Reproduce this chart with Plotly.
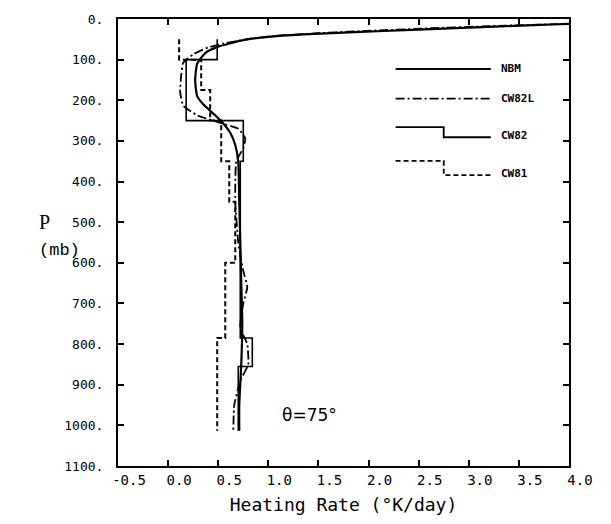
import plotly.graph_objects as go

# ---------------- data ----------------
nbm_p = [8, 12, 15, 21, 26, 33, 38, 44, 52, 68, 84, 110, 150, 190, 210, 237, 257, 280, 310, 351, 450, 550, 650, 750, 850, 950, 1013]
nbm_v = [4.4, 4.0, 3.65, 3.0, 2.5, 1.8, 1.35, 1.0, 0.75, 0.5, 0.37, 0.29, 0.27, 0.29, 0.35, 0.47, 0.55, 0.62, 0.67, 0.70, 0.71, 0.72, 0.73, 0.74, 0.73, 0.71, 0.71]

cw82l_p = [8, 12, 16, 22, 28, 35, 42, 50, 60, 70, 87, 108, 140, 180, 213, 237, 254, 270, 294, 318, 350, 450, 550, 620, 660, 700, 760, 800, 850, 890, 950, 1013]
cw82l_v = [4.4, 4.0, 3.4, 2.7, 2.1, 1.5, 1.05, 0.78, 0.56, 0.40, 0.25, 0.15, 0.13, 0.12, 0.15, 0.29, 0.50, 0.70, 0.77, 0.75, 0.68, 0.67, 0.70, 0.75, 0.79, 0.75, 0.72, 0.79, 0.80, 0.72, 0.66, 0.65]

cw82_edges = [50, 100, 250, 350, 785, 855, 1013]
cw82_vals = [0.49, 0.18, 0.75, 0.72, 0.84, 0.70]

cw81_edges = [50, 100, 175, 250, 350, 450, 600, 785, 1013]
cw81_vals = [0.11, 0.33, 0.42, 0.53, 0.61, 0.67, 0.57, 0.49]

y_ticks = list(range(0, 1101, 100))
y_ticktext = [f"{v}." for v in y_ticks]
x_ticks = [-0.5, 0.0, 0.5, 1.0, 1.5, 2.0, 2.5, 3.0, 3.5, 4.0]
x_ticktext = ["-0.5", "0.0", "0.5", "1.0", "1.5", "2.0", "2.5", "3.0", "3.5", "4.0"]


def steps(edges, vals):
    xs, ys = [], []
    for i, v in enumerate(vals):
        xs += [v, v]
        ys += [edges[i], edges[i + 1]]
    return xs, ys


MONO = "DejaVu Sans Mono"
fig = go.Figure()

fig.add_trace(go.Scatter(x=nbm_v, y=nbm_p, mode="lines", line=dict(color="black", width=2.2, shape="spline", smoothing=0.5), name="NBM"))
fig.add_trace(go.Scatter(x=cw82l_v, y=cw82l_p, mode="lines", line=dict(color="black", width=1.8, dash="9px,3px,2px,3px", shape="spline", smoothing=0.4), name="CW82L"))
sx, sy = steps(cw82_edges, cw82_vals)
fig.add_trace(go.Scatter(x=sx, y=sy, mode="lines", line=dict(color="black", width=1.6), name="CW82"))
sx, sy = steps(cw81_edges, cw81_vals)
fig.add_trace(go.Scatter(x=sx, y=sy, mode="lines", line=dict(color="black", width=2, dash="5px,3px"), name="CW81"))

# ---------------- in-plot legend ----------------
x0, xs_, x1 = 2.27, 2.75, 3.22
leg = [
    ("NBM", 123, None, "solid"),
    ("CW82L", 196, None, "9px,3px,2px,3px"),
    ("CW82", 266, 291, "solid"),
    ("CW81", 349, 384, "5px,3px"),
]
for name, ya, yb, dash in leg:
    if yb is None:
        lx, ly = [x0, x1], [ya, ya]
        lab_y = ya
    else:
        lx, ly = [x0, xs_, xs_, x1], [ya, ya, yb, yb]
        lab_y = yb - 5
    fig.add_trace(go.Scatter(x=lx, y=ly, mode="lines", line=dict(color="black", width=1.8, dash=dash), showlegend=False, hoverinfo="skip"))
    fig.add_annotation(x=x1 + 0.08, y=lab_y, xref="x", yref="y", text="<b>" + name + "</b>", showarrow=False, xanchor="left", yanchor="middle",
                       font=dict(family=MONO, size=11, color="black"))

fig.add_annotation(x=1.12, y=975, xref="x", yref="y", text="θ=75°", showarrow=False, xanchor="left", yanchor="middle",
                   font=dict(family="DejaVu Sans", size=17, color="black"))

fig.add_annotation(x=37, y=218, xref="paper", yref="paper", text="P", showarrow=False,
                   font=dict(family="Liberation Serif", size=20, color="black"))
fig.add_annotation(x=37, y=247, xref="paper", yref="paper", text="(mb)", showarrow=False,
                   font=dict(family="Liberation Mono", size=17, color="black"))

# convert pixel positions for the two P/(mb) labels to paper coordinates
L, R, T, B = 118, 42, 12, 58
W, H = 611, 524
pw, ph = W - L - R, H - T - B
for ann in fig.layout.annotations[-2:]:
    px, py = ann.x, ann.y
    ann.x = (px - L) / pw
    ann.y = 1 - (py - T) / ph

fig.update_layout(
    width=W, height=H,
    margin=dict(l=L, r=R, t=T, b=B, pad=0),
    paper_bgcolor="white", plot_bgcolor="white",
    showlegend=False,
    xaxis=dict(range=[-0.5, 4.0], tickvals=x_ticks, ticktext=x_ticktext, showgrid=False, zeroline=False,
               showline=True, linecolor="black", linewidth=2, mirror="ticks", ticks="inside", ticklen=6,
               tickwidth=1.5, tickcolor="black", ticklabelshift=11,
               tickfont=dict(family=MONO, size=14, color="black"),
               title=dict(text="Heating Rate (°K/day)", font=dict(family=MONO, size=18, color="black"), standoff=12)),
    yaxis=dict(range=[1100, 0], tickvals=y_ticks, ticktext=y_ticktext, showgrid=False, zeroline=False,
               showline=True, linecolor="black", linewidth=2, mirror="ticks", ticks="inside", ticklen=6,
               tickwidth=1.5, tickcolor="black", ticklabelstandoff=10,
               tickfont=dict(family=MONO, size=13, color="black")),
)

fig.write_html("out.html")
